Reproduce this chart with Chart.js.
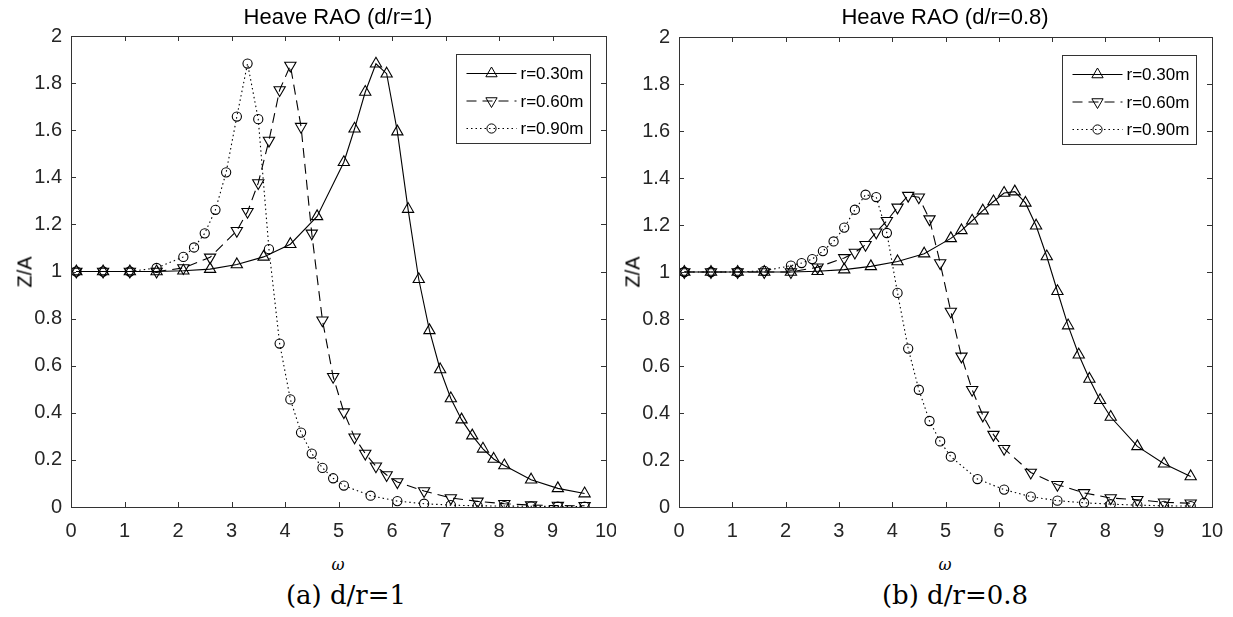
<!DOCTYPE html>
<html lang="en">

<head>
    <meta charset="UTF-8">
    <title>Heave RAO</title>
    <style>
        body {
            margin: 0;
            background: #fff;
        }

        .page {
            position: relative;
            width: 1233px;
            height: 617px;
            overflow: hidden;
            font-family: "Liberation Sans", Arial, sans-serif;
            color: #000;
        }

        .chart-box {
            position: absolute;
            top: 0;
        }

        .title {
            position: absolute;
            top: 4px;
            font-size: 22px;
            transform: translateX(-50%);
            white-space: nowrap;
        }

        .ylabel {
            position: absolute;
            font-size: 20px;
            transform: translate(-50%, -50%) rotate(-90deg);
            white-space: nowrap;
        }

        .xlabel {
            position: absolute;
            top: 555px;
            font-family: "DejaVu Serif", serif;
            font-style: italic;
            font-size: 16px;
            transform: translateX(-50%);
        }

        .caption {
            position: absolute;
            top: 580px;
            font-family: "DejaVu Serif", serif;
            font-size: 26px;
            transform: translateX(-50%);
            white-space: nowrap;
        }
    </style>
</head>

<body>
    <div class="page">
        <div class="chart-box" style="left:0px;"><canvas id="chartA" width="616" height="540"></canvas></div>
        <div class="chart-box" style="left:616px;"><canvas id="chartB" width="612" height="540"></canvas></div>

        <div class="title" style="left:338px;">Heave RAO (d/r=1)</div>
        <div class="title" style="left:945px;">Heave RAO (d/r=0.8)</div>
        <div class="ylabel" style="left:25px; top:272px;">Z/A</div>
        <div class="ylabel" style="left:633px; top:272px;">Z/A</div>
        <div class="xlabel" style="left:338px;">ω</div>
        <div class="xlabel" style="left:945px;">ω</div>
        <div class="caption" style="left:346px;">(a) d/r=1</div>
        <div class="caption" style="left:955px;">(b) d/r=0.8</div>
    </div>

    <script src="https://cdn.jsdelivr.net/npm/chart.js"></script>
    <script>
        // omega values (each radius was sampled on its own grid)
        const omega30 = [0.1, 0.6, 1.1, 1.6, 2.1, 2.6, 3.1, 3.6, 4.1, 4.6, 5.1, 5.3, 5.5, 5.7, 5.9, 6.1, 6.3, 6.5, 6.7, 6.9, 7.1, 7.3, 7.5, 7.7, 7.9, 8.1, 8.6, 9.1, 9.6];
        const omega60 = [0.1, 0.6, 1.1, 1.6, 2.1, 2.6, 3.1, 3.3, 3.5, 3.7, 3.9, 4.1, 4.3, 4.5, 4.7, 4.9, 5.1, 5.3, 5.5, 5.7, 5.9, 6.1, 6.6, 7.1, 7.6, 8.1, 8.6, 9.1, 9.6];
        const omega90 = [0.1, 0.6, 1.1, 1.6, 2.1, 2.3, 2.5, 2.7, 2.9, 3.1, 3.3, 3.5, 3.7, 3.9, 4.1, 4.3, 4.5, 4.7, 4.9, 5.1, 5.6, 6.1, 6.6, 7.1, 7.6, 8.1, 8.6, 9.1, 9.6];

        // (a) d/r = 1
        const raoA30 = [1, 1, 1, 1, 1.003, 1.01, 1.03, 1.062, 1.116, 1.234, 1.464, 1.606, 1.762, 1.882, 1.84, 1.594, 1.265, 0.967, 0.75, 0.584, 0.461, 0.371, 0.303, 0.247, 0.204, 0.176, 0.116, 0.079, 0.057];
        const raoA60 = [1, 1, 1, 1, 1.015, 1.06, 1.173, 1.254, 1.376, 1.556, 1.771, 1.875, 1.615, 1.162, 0.793, 0.553, 0.403, 0.296, 0.227, 0.173, 0.136, 0.106, 0.068, 0.038, 0.024, 0.014, 0.008, 0.006, 0.005];
        const raoA90 = [1, 1, 1, 1.015, 1.062, 1.102, 1.162, 1.262, 1.421, 1.658, 1.883, 1.647, 1.095, 0.694, 0.457, 0.316, 0.227, 0.166, 0.122, 0.091, 0.048, 0.025, 0.014, 0.008, 0.005, 0.004, 0.003, 0.002, 0.002];

        // (b) d/r = 0.8
        const raoB30 = [1, 1, 1, 1, 1, 1.003, 1.01, 1.024, 1.045, 1.078, 1.143, 1.177, 1.218, 1.261, 1.3, 1.336, 1.342, 1.294, 1.197, 1.066, 0.918, 0.772, 0.648, 0.545, 0.454, 0.383, 0.258, 0.184, 0.13];
        const raoB60 = [1, 1, 1, 1, 1, 1.02, 1.06, 1.083, 1.116, 1.169, 1.218, 1.275, 1.325, 1.318, 1.225, 1.038, 0.832, 0.641, 0.499, 0.39, 0.308, 0.248, 0.147, 0.095, 0.06, 0.038, 0.031, 0.02, 0.016];
        const raoB90 = [1, 1, 1, 1.005, 1.027, 1.038, 1.055, 1.089, 1.13, 1.189, 1.265, 1.329, 1.319, 1.166, 0.911, 0.674, 0.499, 0.366, 0.279, 0.214, 0.119, 0.074, 0.044, 0.027, 0.018, 0.012, 0.008, 0.005, 0.004];

        const seriesLabels = ['r=0.30m', 'r=0.60m', 'r=0.90m'];
        const xTicks = [0, 10, 1];      // min, max, step
        const yTicks = [0, 2, 0.2];

        const axisColor = '#333';
        const tickFont = { family: '"Liberation Sans", Arial, sans-serif', size: 20 };

        function toPoints(xs, ys) {
            return xs.map((x, i) => ({ x: x, y: ys[i] }));
        }

        // line + marker style for each radius
        const styles = [
            { dash: [], pointStyle: 'triangle', rotation: 0, radius: 6.5 },
            { dash: [10, 6], pointStyle: 'triangle', rotation: 180, radius: 6.5 },
            { dash: [1.5, 3], pointStyle: 'circle', rotation: 0, radius: 4.6 }
        ];

        function makeDatasets(yArrays) {
            const xs = [omega30, omega60, omega90];
            return yArrays.map((ys, i) => ({
                label: seriesLabels[i],
                data: toPoints(xs[i], ys),
                showLine: true,
                borderColor: '#000',
                borderWidth: 1.1,
                borderDash: styles[i].dash,
                backgroundColor: 'rgba(0,0,0,0)',
                pointStyle: styles[i].pointStyle,
                rotation: styles[i].rotation,
                pointRadius: styles[i].radius,
                pointBorderColor: '#000',
                pointBorderWidth: 1.1,
                pointBackgroundColor: 'rgba(0,0,0,0)',
                tension: 0
            }));
        }

        function drawMarker(ctx, st, x, y) {
            ctx.setLineDash([]);
            ctx.beginPath();
            if (st.pointStyle === 'circle') {
                ctx.arc(x, y, st.radius, 0, Math.PI * 2);
            } else {
                const r = st.radius;
                const s = st.rotation === 180 ? -1 : 1;
                ctx.moveTo(x, y - s * r);
                ctx.lineTo(x + r * 0.866, y + s * r * 0.5);
                ctx.lineTo(x - r * 0.866, y + s * r * 0.5);
                ctx.closePath();
            }
            ctx.stroke();
        }

        // MATLAB-like box, inward ticks and legend
        const boxPlugin = {
            id: 'boxPlugin',
            afterDraw(chart) {
                const ctx = chart.ctx;
                const a = chart.chartArea;
                const xs = chart.scales.x, ys = chart.scales.y;
                ctx.save();
                ctx.strokeStyle = axisColor;
                ctx.lineWidth = 1;
                ctx.setLineDash([]);
                ctx.strokeRect(Math.round(a.left) + 0.5, Math.round(a.top) + 0.5, Math.round(a.right - a.left), Math.round(a.bottom - a.top));
                ctx.beginPath();
                xs.ticks.forEach(t => {
                    const px = Math.round(xs.getPixelForValue(t.value)) + 0.5;
                    ctx.moveTo(px, a.bottom); ctx.lineTo(px, a.bottom - 5);
                    ctx.moveTo(px, a.top); ctx.lineTo(px, a.top + 5);
                });
                ys.ticks.forEach(t => {
                    const py = Math.round(ys.getPixelForValue(t.value)) + 0.5;
                    ctx.moveTo(a.left, py); ctx.lineTo(a.left + 5, py);
                    ctx.moveTo(a.right, py); ctx.lineTo(a.right - 5, py);
                });
                ctx.stroke();

                // legend
                const w = 134, h = 89;
                const lx = Math.round(a.right - 16 - w) + 0.5, ly = Math.round(a.top + 18) + 0.5;
                ctx.fillStyle = '#fff';
                ctx.fillRect(lx, ly, w, h);
                ctx.strokeStyle = axisColor;
                ctx.strokeRect(lx, ly, w, h);
                ctx.font = '17px "Liberation Sans", Arial, sans-serif';
                ctx.textBaseline = 'middle';
                ctx.textAlign = 'left';
                chart.data.datasets.forEach((ds, i) => {
                    const rowY = ly + 19 + i * 27.5;
                    const st = styles[i];
                    ctx.strokeStyle = '#000';
                    ctx.setLineDash(st.dash);
                    ctx.beginPath();
                    ctx.moveTo(lx + 10, rowY);
                    ctx.lineTo(lx + 60, rowY);
                    ctx.stroke();
                    drawMarker(ctx, st, lx + 35, rowY);
                    ctx.fillStyle = '#000';
                    ctx.fillText(ds.label, lx + 64, rowY + 1);
                });
                ctx.restore();
            }
        };

        function createChart(canvasId, yArrays, yAxisWidth, padRight, padTop) {
            const ctx = document.getElementById(canvasId).getContext('2d');
            return new Chart(ctx, {
                type: 'scatter',
                data: { datasets: makeDatasets(yArrays) },
                options: {
                    responsive: false,
                    animation: false,
                    layout: { padding: { top: padTop, right: padRight, left: 0, bottom: 0 } },
                    plugins: {
                        legend: { display: false },
                        title: { display: false },
                        tooltip: { enabled: false }
                    },
                    scales: {
                        x: {
                            type: 'linear',
                            min: xTicks[0],
                            max: xTicks[1],
                            grid: { display: false, drawTicks: false },
                            border: { display: false },
                            ticks: { stepSize: xTicks[2], padding: 12, color: '#262626', font: tickFont, maxRotation: 0 },
                            afterFit: s => { s.height = 33; s.paddingLeft = 0; s.paddingRight = 0; }
                        },
                        y: {
                            type: 'linear',
                            min: yTicks[0],
                            max: yTicks[1],
                            grid: { display: false, drawTicks: false },
                            border: { display: false },
                            ticks: {
                                stepSize: yTicks[2], padding: 9, color: '#262626', font: tickFont,
                                callback: v => String(Number(v.toFixed(1)))
                            },
                            afterFit: s => { s.width = yAxisWidth; s.paddingTop = 0; s.paddingBottom = 0; }
                        }
                    }
                },
                plugins: [boxPlugin]
            });
        }

        createChart('chartA', [raoA30, raoA60, raoA90], 71, 10, 36);
        createChart('chartB', [raoB30, raoB60, raoB90], 63, 16, 37);
    </script>
</body>

</html>
